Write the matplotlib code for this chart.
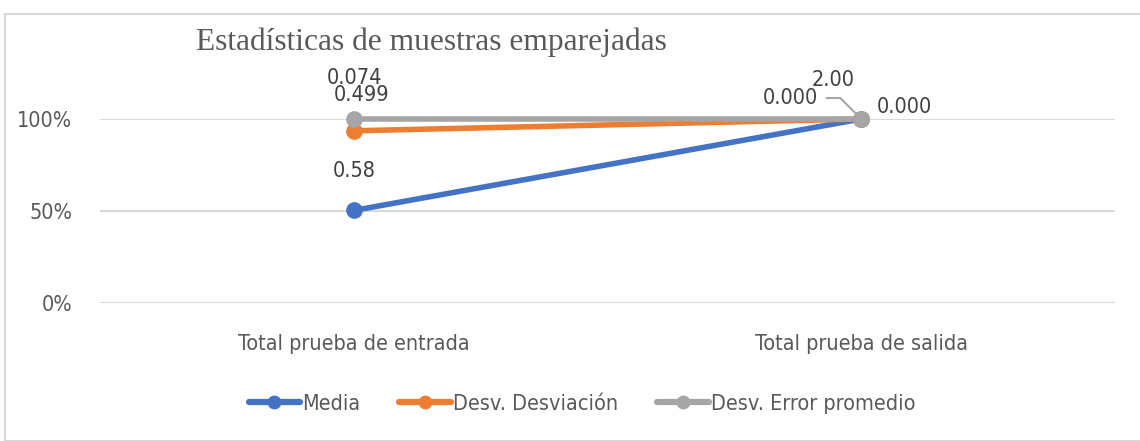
import matplotlib
matplotlib.use("Agg")
import matplotlib.pyplot as plt
from matplotlib.patches import Rectangle
import numpy as np

categories = ["Total prueba de entrada", "Total prueba de salida"]
series_names = ["Media", "Desv. Desviación", "Desv. Error promedio"]
media = [0.58, 2.00]
desv = [0.499, 0.000]
error = [0.074, 0.000]
label_media = ["0.58", "2.00"]
label_desv = ["0.499", "0.000"]
label_error = ["0.074", "0.000"]
yticks = [0, 0.5, 1.0]
ytick_labels = ["0%", "50%", "100%"]
title = "Estadísticas de muestras emparejadas"

colors = ["#4472C4", "#ED7D31", "#A5A5A5"]

plt.rcParams['font.family'] = ["DejaVu Sans"]
plt.rcParams['font.stretch'] = "condensed"
serif = "Liberation Serif"

fig = plt.figure(figsize=(11.4, 4.41), dpi=100)
W, H = 1140, 441
ax = fig.add_axes([100 / W, 1 - 303 / H, 1015 / W, 184 / H])

vals = np.array([media, desv, error], dtype=float)
tot = vals.sum(axis=0)
cum = np.cumsum(vals, axis=0) / tot
x = np.array([0.5, 1.5])

for yv in yticks:
    ax.axhline(yv, color="#D9D9D9", lw=1.5, zorder=0)

for i in range(3):
    ax.plot(x, cum[i], color=colors[i], lw=4, marker="o", ms=11,
            solid_capstyle="round", clip_on=False, zorder=3 + i, label=series_names[i])

ax.set_xlim(0, 2)
ax.set_ylim(0, 1)
ax.set_yticks(yticks)
ax.set_yticklabels(ytick_labels)
ax.set_xticks(x)
ax.set_xticklabels(categories)
ax.tick_params(axis="both", length=0, labelsize=15.5, labelcolor="#595959")
ax.tick_params(axis="x", pad=22)
ax.tick_params(axis="y", pad=20)
for s in ax.spines.values():
    s.set_visible(False)

tc = "#404040"
fs = 15.5

def lab(text, xy, dx, dy, ha="center", **kw):
    ax.annotate(text, xy, xytext=(dx, dy), textcoords="offset pixels",
                ha=ha, va="center", fontsize=fs, color=tc, annotation_clip=False, **kw)

# entrada labels
lab(label_media[0], (x[0], cum[0][0]), 0, 39)
lab(label_desv[0], (x[0], cum[1][0]), 8, 36)
lab(label_error[0], (x[0], cum[2][0]), 1, 41)
# salida labels
lab(label_media[1], (x[1], cum[0][1]), -28, 39)
lab(label_desv[1], (x[1], cum[1][1]), 15, 12, ha="left")
lab(label_error[1], (x[1], cum[2][1]), -43, 21, ha="right",
    arrowprops=dict(arrowstyle="-", color="#A6A6A6", lw=1.5,
                    connectionstyle="angle,angleA=0,angleB=135,rad=0",
                    shrinkA=4, shrinkB=6))

fig.text(431 / W, 1 - 42 / H, title, ha="center", va="center", fontsize=22.7,
         family=serif, color="#595959")

leg = fig.legend(loc="center", bbox_to_anchor=(582 / W, 1 - 404 / H), ncol=3, frameon=False,
                 fontsize=15.5, handlelength=2.4, handletextpad=0.1, columnspacing=1.8,
                 labelcolor="#595959")
for h in leg.legend_handles:
    h.set_markersize(9)
    h.set_linewidth(4.5)

fig.add_artist(Rectangle((5 / W, 0), 1.2, 1 - 14 / H, transform=fig.transFigure,
                         fill=False, edgecolor="#D9D9D9", lw=1.5))

fig.savefig("out.png", dpi=100)
